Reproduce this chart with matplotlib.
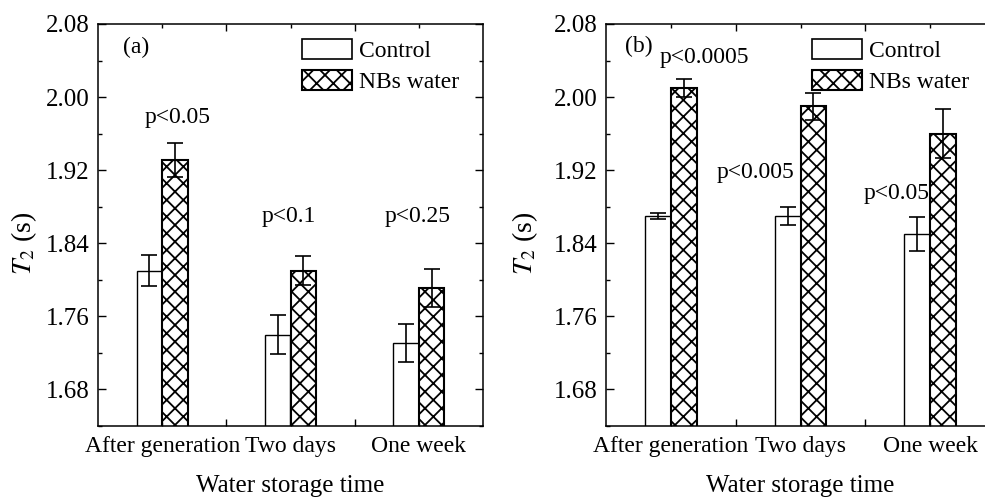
import numpy as np
import matplotlib
matplotlib.use("Agg")
import matplotlib.pyplot as plt
from matplotlib.patches import Patch

plt.rcParams['font.family'] = ['Liberation Serif', 'DejaVu Serif']
plt.rcParams['mathtext.fontset'] = 'stix'
plt.rcParams['hatch.linewidth'] = 1.3

# ---- data ----
groups = ["After generation", "Two days", "One week"]

# panel (a)
ctrl_a = [1.810, 1.740, 1.731]
ctrl_a_err = [0.017, 0.021, 0.021]
nbs_a = [1.931, 1.810, 1.791]
nbs_a_err = [0.019, 0.016, 0.021]
pvals_a = ["p<0.05", "p<0.1", "p<0.25"]

# panel (b)
ctrl_b = [1.870, 1.870, 1.850]
ctrl_b_err = [0.003, 0.010, 0.019]
nbs_b = [2.010, 1.990, 1.960]
nbs_b_err = [0.0095, 0.015, 0.027]
pvals_b = ["p<0.0005", "p<0.005", "p<0.05"]

yticks = [1.68, 1.76, 1.84, 1.92, 2.00, 2.08]

FS = 18


def draw_panel(ax, ctrl, ctrl_err, nbs, nbs_err, pvals, ppos, tag, tagpos, ylab_x):
    x = np.arange(len(groups)) + 0.5
    w = 0.2
    ax.bar(x - w / 2, ctrl, w, color="white", edgecolor="black",
           linewidth=1.0, yerr=ctrl_err, capsize=6,
           error_kw=dict(elinewidth=1.2, capthick=1.2, ecolor="black"))
    ax.bar(x + w / 2, nbs, w, color="white", edgecolor="black", hatch="xx",
           linewidth=1.5, yerr=nbs_err, capsize=6,
           error_kw=dict(elinewidth=1.2, capthick=1.2, ecolor="black"))

    ax.set_xlim(0, 3)
    ax.set_ylim(1.64, 2.08)
    ax.set_yticks(yticks)
    ax.set_yticklabels([f"{v:.2f}" for v in yticks])
    ax.set_yticks(np.arange(1.64, 2.081, 0.04), minor=True)
    ax.set_xticks([1, 2])
    ax.set_xticklabels(["", ""])
    ax.set_xticks(x, minor=True)
    ax.set_xticklabels(groups, minor=True, fontsize=FS - 1)

    ax.tick_params(axis="both", which="both", direction="in", top=True, right=True,
                   width=1.0)
    ax.tick_params(axis="y", which="major", length=6, pad=6, labelsize=FS)
    ax.tick_params(axis="y", which="minor", length=3)
    ax.tick_params(axis="x", which="major", length=5)
    ax.tick_params(axis="x", which="minor", length=3, pad=7)
    for s in ax.spines.values():
        s.set_linewidth(1.1)

    ax.set_ylabel(r"$T_2$ (s)", fontsize=FS + 2)
    ax.yaxis.set_label_coords(ylab_x, 0.455)
    ax.set_xlabel("Water storage time", fontsize=FS, labelpad=13)

    for (px, py), t in zip(ppos, pvals):
        ax.text(px, py, t, fontsize=FS - 1, ha="center", va="center")
    ax.text(tagpos[0], tagpos[1], tag, fontsize=FS - 1, ha="center", va="center")

    handles = [Patch(facecolor="white", edgecolor="black", linewidth=1.2),
               Patch(facecolor="white", edgecolor="black", hatch="xx", linewidth=1.5)]
    ax.legend(handles, ["Control", "NBs water"], loc="upper left",
              bbox_to_anchor=(0.53, 0.962), frameon=False, fontsize=FS - 1,
              handlelength=2.1, handleheight=0.9, handletextpad=0.3,
              labelspacing=0.35, borderpad=0, borderaxespad=0)


fig = plt.figure(figsize=(9.85, 4.98), dpi=100)
ax1 = fig.add_axes([98 / 985, 72 / 498, 385 / 985, 402 / 498])
ax2 = fig.add_axes([606 / 985, 72 / 498, 389 / 985, 402 / 498])

draw_panel(ax1, ctrl_a, ctrl_a_err, nbs_a, nbs_a_err, pvals_a,
           [(0.62, 1.978), (1.49, 1.869), (2.49, 1.869)], "(a)", (0.30, 2.054), -0.152)
draw_panel(ax2, ctrl_b, ctrl_b_err, nbs_b, nbs_b_err, pvals_b,
           [(0.76, 2.043), (1.15, 1.917), (2.24, 1.895)], "(b)", (0.25, 2.055), -0.17)

fig.savefig("out.png", dpi=100)
